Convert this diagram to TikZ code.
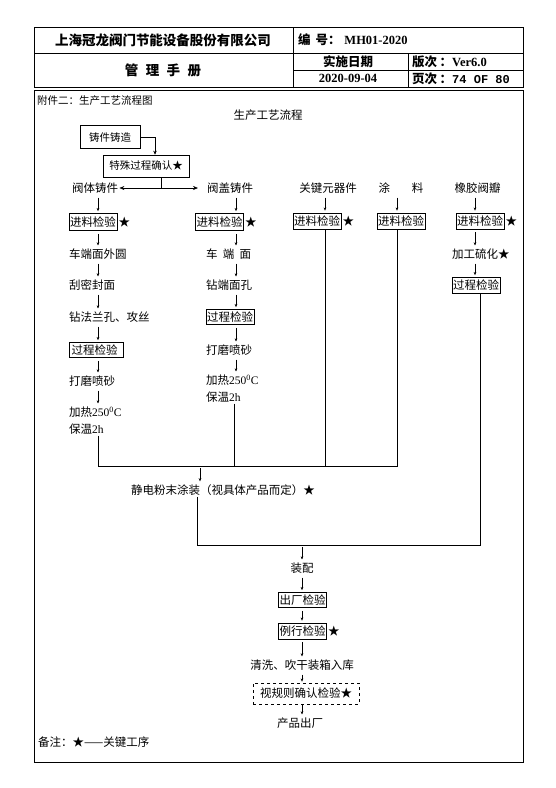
\documentclass[tikz,border=0pt]{standalone}
\usepackage{fontspec}
\setmainfont{Noto Sans CJK SC}
\newfontfamily\tnr{Liberation Serif}
\newfontfamily\mono{Liberation Mono}
\usetikzlibrary{arrows.meta,positioning}
\tikzset{
  t/.style={inner sep=1pt, font=\fontsize{11.5}{17}\selectfont},
  ts/.style={inner sep=1pt, font=\fontsize{10.5}{13}\selectfont},
  bx/.style={t, draw, line width=0.6pt, inner sep=1.2pt, minimum height=17pt},
  sa/.style={-{Stealth[length=3.2pt,width=2.6pt]}, line width=0.4pt, shorten <=3pt, shorten >=2pt},
  ba/.style={-{Stealth[length=5pt,width=4pt]}, line width=0.6pt},
  ln/.style={line width=0.7pt},
  hd/.style={font=\fontsize{13.5}{16}\selectfont\bfseries, inner sep=0pt},
  hs/.style={font=\fontsize{12.5}{15}\selectfont\bfseries, inner sep=0pt},
}
\begin{document}
\begin{tikzpicture}[x=1pt,y=-1pt]
\useasboundingbox (0,0) rectangle (555,788);
% header table
\draw[line width=0.8pt] (34,27) rectangle (523,87);
\draw[line width=0.6pt] (34,53.5) -- (523,53.5);
\draw[line width=0.6pt] (293,27) -- (293,87);
\draw[line width=0.6pt] (293,70) -- (523,70);
\draw[line width=0.6pt] (408,53.5) -- (408,87);
\node[hd] (co) at (163,40) {上海冠龙阀门节能设备股份有限公司};
\node[hd] (mg) at (163,70) {管\hspace{0.55em}理\hspace{0.55em}手\hspace{0.55em}册};
\node[hs, anchor=west] (bh) at (298,40) {编\hspace{0.4em}号：\hspace{0.3em}{\tnr\bfseries MH01-2020}};
\node[hs] (ssrq) at (348,62) {实施日期};
\node[hs] (dt) at (348,78.5) {\tnr\bfseries 2020-09-04};
\node[hs, anchor=west] (bc) at (412,62) {版次\hspace{0.2em}：{\tnr\bfseries Ver6.0}};
\node[hs, anchor=west] (yc) at (412,78.5) {页次\hspace{0.2em}：{\mono\bfseries\fontsize{12}{15}\selectfont 74 OF 80}};
% main frame
\draw[line width=0.8pt] (34,90) rectangle (523,762);
\node[ts, anchor=west] (att) at (36,101) {附件二：生产工艺流程图};
\node[t] (ttl) at (268,115) {生产工艺流程};
\node[ts, draw, line width=0.6pt, minimum width=60pt, minimum height=23pt] (cast) at (110,137) {铸件铸造};
\node[ts, draw, line width=0.6pt, minimum width=86pt, minimum height=22pt] (spec) at (146,166) {特殊过程确认★};
\coordinate (k1) at (155,0);
\coordinate (sp) at (161,188);
\draw[-{Stealth[length=4pt,width=3.5pt]}, line width=0.6pt] (cast.east) -| (k1 |- spec.north);
% column coordinates
\coordinate (c1) at (98,0);
\coordinate (c2) at (236,0);
\coordinate (c3) at (325,0);
\coordinate (c4) at (397,0);
\coordinate (c5) at (475,0);
% column 1
\node[t, anchor=west] (a1) at (71,188) {阀体铸件};
\node[bx] (a2) at (93,222) {进料检验};
\node[t, right=0pt of a2] (a2s) {★};
\node[t, anchor=west] (a3) at (68,254) {车端面外圆};
\node[t, anchor=west] (a4) at (68,285) {刮密封面};
\node[t, anchor=west] (a5) at (68,317) {钻法兰孔、攻丝};
\node[bx, minimum width=54pt, text width=49pt, align=left, minimum height=15pt] (a6) at (96,350) {过程检验};
\node[t, anchor=west] (a7) at (68,381) {打磨喷砂};
\node[t, anchor=west, align=left] (a8) at (68,420.5) {加热{\tnr 250\textsuperscript{0}C}\\保温{\tnr 2h}};
\draw[sa] (a1.south -| c1) -- (a2.north -| c1);
\draw[sa] (a2.south -| c1) -- (a3.north -| c1);
\draw[sa] (a3.south -| c1) -- (a4.north -| c1);
\draw[sa] (a4.south -| c1) -- (a5.north -| c1);
\draw[sa] (a5.south -| c1) -- (a6.north -| c1);
\draw[sa] (a6.south -| c1) -- (a7.north -| c1);
\draw[sa] (a7.south -| c1) -- (a8.north -| c1);
% column 2
\node[t, anchor=west] (b1) at (206,188) {阀盖铸件};
\node[bx] (b2) at (219.5,222) {进料检验};
\node[t, right=0pt of b2] (b2s) {★};
\node[t, anchor=west] (b3) at (205,254) {车\hspace{0.45em}端\hspace{0.45em}面};
\node[t, anchor=west] (b4) at (205,285) {钻端面孔};
\node[bx, minimum height=15pt] (b5) at (230,317) {过程检验};
\node[t, anchor=west] (b6) at (205,350) {打磨喷砂};
\node[t, anchor=west, align=left] (b7) at (205,388.5) {加热{\tnr 250\textsuperscript{0}C}\\保温{\tnr 2h}};
\draw[sa] (b1.south -| c2) -- (b2.north -| c2);
\draw[sa] (b2.south -| c2) -- (b3.north -| c2);
\draw[sa] (b3.south -| c2) -- (b4.north -| c2);
\draw[sa] (b4.south -| c2) -- (b5.north -| c2);
\draw[sa] (b5.south -| c2) -- (b6.north -| c2);
\draw[sa] (b6.south -| c2) -- (b7.north -| c2);
% split arrows
\draw[line width=0.6pt] (spec.south -| sp) -- (sp);
\draw[ba] (sp) -- (a1.east);
\draw[ba, shorten >=8pt] (sp) -- (b1.west);
% column 3
\node[t] (g1) at (328,188) {关键元器件};
\node[bx, minimum height=16pt] (g2) at (317,221) {进料检验};
\node[t, right=0pt of g2] (g2s) {★};
\draw[sa] (g1.south -| c3) -- (g2.north -| c3);
% column 4
\node[t] (h1) at (401,188) {涂\hspace{1.9em}料};
\node[bx, minimum height=16pt] (h2) at (401,221) {进料检验};
\draw[sa] (h1.south -| c4) -- (h2.north -| c4);
% column 5
\node[t] (e0) at (477.5,188) {橡胶阀瓣};
\node[bx, minimum height=16pt] (e1) at (480,221) {进料检验};
\node[t, right=0pt of e1] (e1s) {★};
\node[t, anchor=west] (e2) at (451,254) {加工硫化★};
\node[bx, minimum height=16pt] (e3) at (476,285.5) {过程检验};
\draw[sa] (e0.south -| c5) -- (e1.north -| c5);
\draw[sa] (e1.south -| c5) -- (e2.north -| c5);
\draw[sa] (e2.south -| c5) -- (e3.north -| c5);
% merge 1
\coordinate (mrg) at (0,466);
\coordinate (k2) at (234,0);
\coordinate (k3) at (200,0);
\draw[ln] (a8.south -| c1) -- (c1 |- mrg) -- (c4 |- mrg) -- (h2.south -| c4);
\draw[ln] (b7.south -| k2) -- (k2 |- mrg);
\draw[ln] (g2.south -| c3) -- (c3 |- mrg);
\node[t] (es) at (223,490) {静电粉末涂装（视具体产品而定）★};
\draw[sa, shorten <=2pt] (k3 |- mrg) -- (es.north -| k3);
% merge 2
\coordinate (mb) at (0,545);
\coordinate (k4) at (197,0);
\coordinate (k5) at (480,0);
\coordinate (c6) at (302,0);
\draw[ln] (es.south -| k4) -- (k4 |- mb) -- (k5 |- mb) -- (e3.south -| k5);
% bottom sequence
\node[t] (f1) at (302,568) {装配};
\node[bx, minimum height=15pt] (f2) at (302.5,600) {出厂检验};
\node[bx, minimum height=16pt] (f3) at (302.5,631) {例行检验};
\node[t, right=0pt of f3] (f3s) {★};
\node[t] (f4) at (302,665) {清洗、吹干装箱入库};
\node[t, draw, dashed, line width=0.6pt, minimum width=106pt, minimum height=21pt] (f5) at (306,693.5) {视规则确认检验★};
\node[t] (f6) at (300,723) {产品出厂};
\draw[sa, shorten <=2pt] (c6 |- mb) -- (f1.north -| c6);
\draw[sa] (f1.south -| c6) -- (f2.north -| c6);
\draw[sa] (f2.south -| c6) -- (f3.north -| c6);
\draw[sa] (f3.south -| c6) -- (f4.north -| c6);
\draw[sa, shorten >=1pt] (f4.south -| c6) -- (f5.north -| c6);
\draw[sa, shorten <=1pt] (f5.south -| c6) -- (f6.north -| c6);
\node[t, anchor=west] (nt) at (37,742) {备注：★——关键工序};
\end{tikzpicture}
\end{document}
